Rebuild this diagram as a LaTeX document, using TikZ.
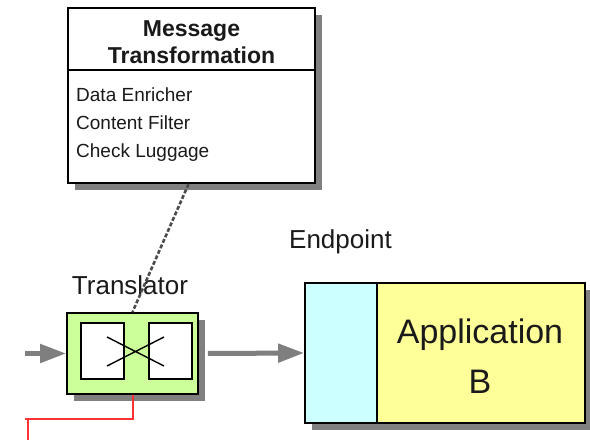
\documentclass[tikz,border=0pt]{standalone}
\usepackage{fontspec}
\setmainfont{Liberation Sans}
\usetikzlibrary{arrows.meta,shadows}

\definecolor{shadowgray}{HTML}{808080}
\definecolor{flowgray}{HTML}{7F7F7F}
\definecolor{transgreen}{HTML}{CCFF99}
\definecolor{endcyan}{HTML}{CCFFFF}
\definecolor{appyellow}{HTML}{FFFF99}
\definecolor{wirered}{HTML}{FF3333}
\definecolor{inkgray}{HTML}{1A1A1A}

\tikzset{
  boxshadow/.style={drop shadow={shadow xshift=7bp,shadow yshift=-7bp,fill=shadowgray,opacity=1}},
  plainbox/.style={draw=black,line width=1.8bp,inner sep=0pt},
  flow/.style={draw=flowgray,line width=5bp,-{Triangle[length=26bp,width=18bp]}},
  labeltext/.style={text=inkgray,font=\fontsize{26bp}{30bp}\selectfont,inner sep=0pt},
  link/.style={draw=black!70,line width=2.6bp,dash pattern=on 4bp off 2bp},
  wire/.style={draw=wirered,line width=2bp}
}

\begin{document}
\begin{tikzpicture}[x=1bp,y=-1bp]
\useasboundingbox (0,0) rectangle (590,440);
\fill[white] (0,0) rectangle (590,440);

% Message Transformation box
\node[plainbox,line width=2.2bp,fill=white,boxshadow,minimum width=247bp,minimum height=175bp]
  (msg) at (191.5,95.5) {};
\coordinate (divL) at (68,70);
\draw[line width=2.2bp] (divL) -- (divL -| msg.east);
\node[inner sep=0pt,align=center,text=inkgray,font=\bfseries\fontsize{23bp}{27bp}\selectfont]
  (msgtitle) at (191.5,42) {Message\\Transformation};
\node[inner sep=0pt,align=left,anchor=west,text=inkgray,font=\fontsize{19bp}{28bp}\selectfont]
  (msgitems) at (76,125) {Data Enricher\\Content Filter\\Check Luggage};

% Translator
\node[labeltext] (translabel) at (130,285) {Translator};
\node[plainbox,fill=transgreen,boxshadow,minimum width=131bp,minimum height=81bp]
  (trans) at (132.5,353.5) {};
\node[plainbox,fill=white,minimum width=43bp,minimum height=56bp] (inA) at (102.5,351) {};
\node[plainbox,fill=white,minimum width=43bp,minimum height=56bp] (inB) at (170.5,351) {};
\coordinate (xa) at (107,337);
\coordinate (xb) at (164,366);
\coordinate (xc) at (107,366);
\coordinate (xd) at (164,337);
\draw[line width=1.4bp] (xa) -- (xb) (xc) -- (xd);

% Dashed link from the transformation box down to the translator
\draw[link] ([xshift=-3bp]msg.south) -- (trans.north);

% Endpoint with Application B
\node[labeltext] (endlabel) at (340.5,242) {Endpoint};
\node[plainbox,fill=appyellow,boxshadow,minimum width=280bp,minimum height=140bp]
  (endp) at (445,353) {};
\node[plainbox,fill=endcyan,anchor=west,minimum width=72bp,minimum height=140bp]
  (endc) at (endp.west) {};
\node[inner sep=0pt,align=center,text=inkgray,font=\fontsize{34bp}{50bp}\selectfont]
  (app) at (480,356) {Application\\B};

% Message flow
\coordinate (inflow) at (25,353.5);
\draw[flow] (inflow) -- (trans.west);
\draw[flow] ([xshift=9bp]trans.east) -- (endp.west);

% Red wire leaving the translator
\coordinate (wireL) at (25,419);
\coordinate (wireJ) at (28,419);
\coordinate (wireE) at (28,442);
\draw[wire] (trans.south) |- (wireL);
\draw[wire] (wireJ) -- (wireE);
\end{tikzpicture}
\end{document}
